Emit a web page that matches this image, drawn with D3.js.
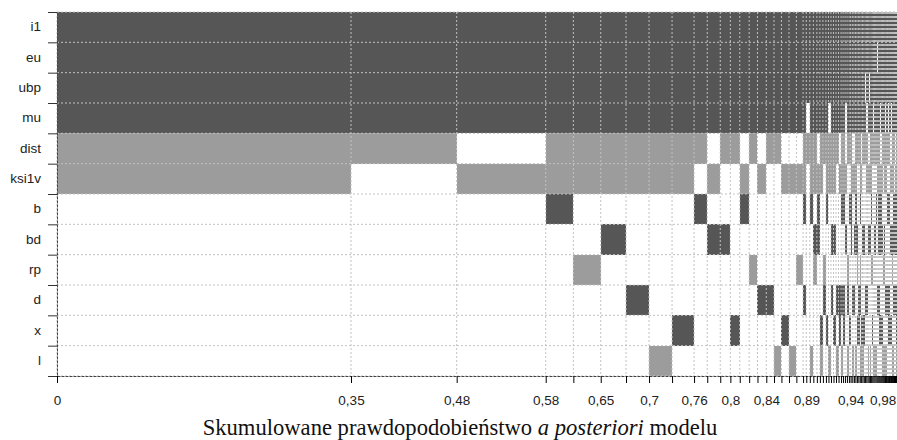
<!DOCTYPE html>
<html>
<head>
<meta charset="utf-8">
<script src="https://cdn.jsdelivr.net/npm/d3@7/dist/d3.min.js"></script>
<style>
  body { margin: 0; background: #fff; }
  .lab { font-family: "Liberation Sans", Arial, sans-serif; }
  .ttl, .ttl tspan { font-family: "Liberation Serif", "Times New Roman", "DejaVu Serif", serif; }
</style>
</head>
<body>
<div id="chart"></div>
<script>
// rows of the plot (top to bottom)
var variables = ["i1", "eu", "ubp", "mu", "dist", "ksi1v", "b", "bd", "rp", "d", "x", "l"];
// sign of the coefficient: 1 = positive (dark), -1 = negative (light)
var varSign = [1, 1, 1, 1, -1, -1, 1, 1, -1, 1, 1, -1];

// posterior model probabilities, best model first
var modelProb = [
  0.3500, 0.1258, 0.1060, 0.0329, 0.0326, 0.0301, 0.0274, 0.0274, 0.0262, 0.0157,
  0.0155, 0.0120, 0.0112, 0.0112, 0.0099, 0.0105, 0.0092, 0.0088, 0.0090, 0.0088,
  0.0080, 0.0038,
  0.0042, 0.0042, 0.0042, 0.0036, 0.0036, 0.0036, 0.0030, 0.0030, 0.0030, 0.0030,
  0.0030, 0.0030, 0.0024, 0.0024, 0.0024, 0.0024, 0.0018,
  0.0020, 0.0019, 0.0018, 0.0018, 0.0017, 0.0017, 0.0016, 0.0016, 0.0016, 0.0015,
  0.0015, 0.0015, 0.0014, 0.0014, 0.0014, 0.0014, 0.0013, 0.0013, 0.0013, 0.0013,
  0.0012, 0.0012, 0.0012, 0.0012, 0.0011, 0.0011,
  0.0010, 0.0010, 0.0010, 0.0010, 0.0009, 0.0009, 0.0009, 0.0009, 0.0008, 0.0008,
  0.0008, 0.0008, 0.0007, 0.0007, 0.0007, 0.0007, 0.0006, 0.0006, 0.0006, 0.0006,
  0.0005, 0.0004, 0.0003
];

// inclusion of each variable in each model (same order as variables)
var modelIncl = [
  "111111000000", "111110000000", "111101000000", "111111100000", "111111001000",
  "111111010000", "111111000100", "111111000001", "111111000010", "111110100000",
  "111101010000", "111110010000", "111110000010", "111101100000", "111110001000",
  "111101000100", "111110000100", "111110000001", "111101000010", "111101000001",
  "111101001000", "111111100100",
  "111010000000", "111111100001", "111111011000", "111101110000", "111111000011",
  "111110001100", "111111100010", "111011000001", "111111010100", "111111010010",
  "111110000101", "111101000110", "111111100101", "111111100110", "111001010000",
  "111110001101", "111110100010",
  "111111110000", "111101000101", "111101010100", "111111110001", "111110011010",
  "111110000110", "111111101101", "111101000011", "111110010011", "111110010010",
  "110110000100", "111011000100", "111101010001", "110101010000", "111111010001",
  "111111101000", "111110001010", "111010000001", "111110010001", "111110100001",
  "101111000100", "111111110100", "111111110110", "111001110010", "111101110010",
  "111111010011",
  "111111001001", "111110001001", "111111011001", "111011000101", "111111000101",
  "111111100111", "111110100100", "111010100110", "111110100110", "111100110110",
  "111101010010", "111001010010", "111101011001", "111111011001", "110111011001",
  "111111110101", "111111111101", "111110110100", "111111110110", "111101110100",
  "111111111111", "111111110111", "111111111110"
];

// labelled ticks: number of models summed, and the label shown
var tickAt = [0, 1, 2, 3, 5, 7, 9, 12, 16, 22, 39, 65];
var tickLabels = ["0", "0,35", "0,48", "0,58", "0,65", "0,7", "0,76", "0,8", "0,84", "0,89", "0,94", "0,98"];

var W = 897, H = 440;
var margin = {top: 12, right: 0, bottom: 64, left: 57},
  width = W - margin.left - margin.right,
  height = H - margin.top - margin.bottom;

var dark = "#565656", light = "#9c9c9c", grid = "#c2c2c2";

var root = d3.select("#chart").append("svg")
  .attr("width", W)
  .attr("height", H);
var svg = root.append("g")
  .attr("transform", "translate(" + margin.left + "," + margin.top + ")");

// cumulative probabilities = model boundaries
var cum = [0];
modelProb.forEach(function(p) { cum.push(cum[cum.length - 1] + p); });

var x = d3.scaleLinear().domain([0, cum[cum.length - 1]]).range([0, width]);
var y = d3.scaleBand().domain(variables).range([0, height]);
var yEdge = d3.scaleLinear().domain([0, variables.length]).range([0, height]);

// cells
var cells = [];
modelIncl.forEach(function(m, j) {
  m.split("").forEach(function(c, i) {
    if (c === "1") cells.push({model: j, v: i});
  });
});

svg.selectAll("rect.cell")
  .data(cells)
  .enter().append("rect")
  .attr("class", "cell")
  .attr("x", function(d) { return x(cum[d.model]); })
  .attr("width", function(d) { return x(cum[d.model + 1]) - x(cum[d.model]); })
  .attr("y", function(d) { return y(variables[d.v]); })
  .attr("height", y.bandwidth())
  .attr("fill", function(d) { return varSign[d.v] > 0 ? dark : light; })
  .attr("shape-rendering", "crispEdges");

// dotted grid
svg.selectAll("line.vgrid")
  .data(cum)
  .enter().append("line")
  .attr("class", "vgrid")
  .attr("x1", function(d) { return x(d); })
  .attr("x2", function(d) { return x(d); })
  .attr("y1", 0)
  .attr("y2", height)
  .attr("stroke", grid)
  .attr("stroke-width", 1)
  .attr("stroke-dasharray", "2,2");

svg.selectAll("line.hgrid")
  .data(d3.range(variables.length + 1))
  .enter().append("line")
  .attr("class", "hgrid")
  .attr("x1", 0)
  .attr("x2", width)
  .attr("y1", function(d) { return yEdge(d); })
  .attr("y2", function(d) { return yEdge(d); })
  .attr("stroke", grid)
  .attr("stroke-width", 1)
  .attr("stroke-dasharray", "2,2");

// x axis: a tick at every model boundary
var xAxis = d3.axisBottom(x)
  .tickValues(cum)
  .tickSize(7)
  .tickSizeOuter(0)
  .tickPadding(12)
  .tickFormat(function(d, i) {
    var k = tickAt.indexOf(i);
    return k >= 0 ? tickLabels[k] : "";
  });

var gx = svg.append("g")
  .attr("transform", "translate(0," + height + ")")
  .call(xAxis);
gx.select(".domain").attr("stroke", "#444").attr("stroke-dasharray", "3,1");
gx.selectAll(".tick line").attr("stroke", "#000").attr("stroke-width", 1);
gx.selectAll(".tick text").attr("class", "lab").attr("font-size", "13.5px").attr("fill", "#222")
  .attr("font-family", "Liberation Sans, Arial, sans-serif");

// y axis: ticks at row edges, labels at row centres
var gyTicks = svg.append("g")
  .call(d3.axisLeft(yEdge).tickValues(d3.range(variables.length + 1)).tickSize(9).tickSizeOuter(0).tickFormat(""));
gyTicks.select(".domain").attr("stroke", "#444").attr("stroke-dasharray", "3,1");
gyTicks.selectAll(".tick line").attr("stroke", "#333");

var gyLabels = svg.append("g")
  .call(d3.axisLeft(y).tickSize(0).tickPadding(16));
gyLabels.select(".domain").remove();
gyLabels.selectAll(".tick text").attr("class", "lab").attr("font-size", "13.5px").attr("fill", "#222")
  .attr("font-family", "Liberation Sans, Arial, sans-serif");

// axis title
var title = root.append("text")
  .attr("class", "ttl")
  .attr("x", 460)
  .attr("y", 435)
  .attr("text-anchor", "middle")
  .attr("font-family", "Liberation Serif, Times New Roman, serif")
  .attr("font-size", "22.6px")
  .attr("fill", "#111");
title.append("tspan").text("Skumulowane prawdopodobieństwo ");
title.append("tspan").attr("font-style", "italic").text("a posteriori");
title.append("tspan").text(" modelu");
</script>
</body>
</html>
